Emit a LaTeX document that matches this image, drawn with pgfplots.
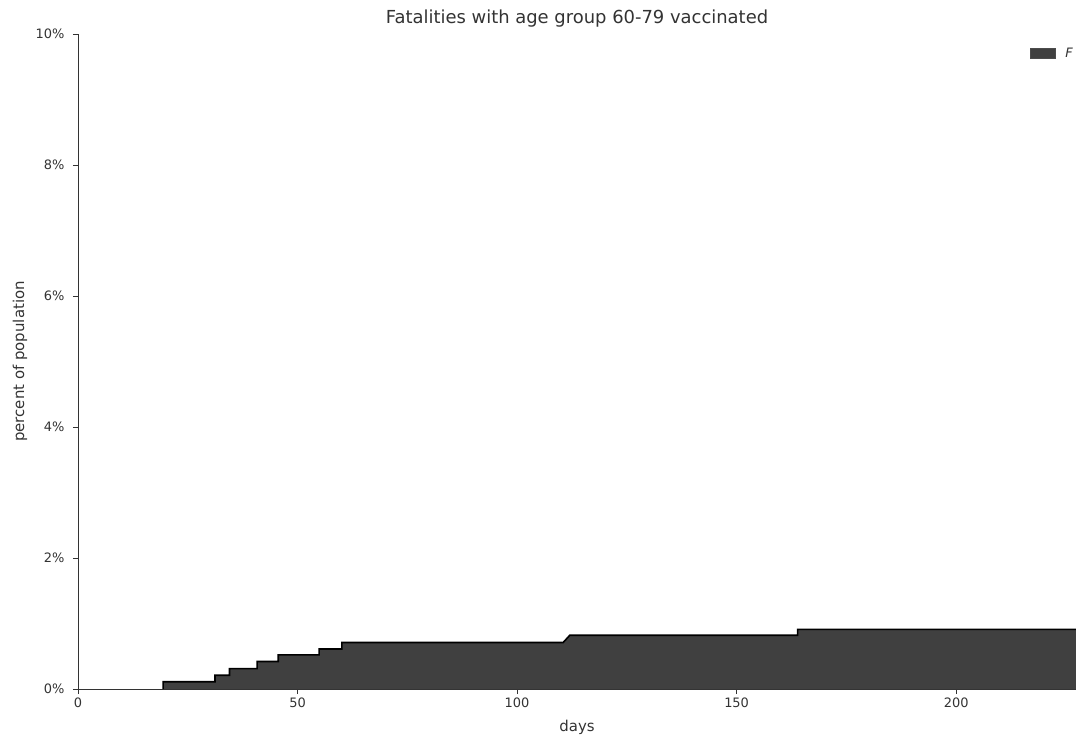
\documentclass[border=0pt]{standalone}
\usepackage{pgfplots}
\pgfplotsset{compat=1.18}
\usepackage{fontspec}
\setmainfont{DejaVu Sans}
\definecolor{fillc}{HTML}{404040}
\definecolor{txt}{HTML}{333333}
\pgfplotstableread{
x y
19.4 0
19.4 0.11
31.2 0.11
31.2 0.21
34.5 0.21
34.5 0.31
40.8 0.31
40.8 0.42
45.6 0.42
45.6 0.52
54.9 0.52
54.9 0.61
60.1 0.61
60.1 0.71
110.5 0.71
112 0.82
163.9 0.82
163.9 0.91
227.3 0.91
}\fatal
\begin{document}
\begin{tikzpicture}
\begin{axis}[
  scale only axis, width=998bp, height=655bp,
  xmin=0, xmax=227.3, ymin=0, ymax=10,
  axis x line*=bottom, axis y line*=left,
  axis line style={-, txt, line width=0.9bp},
  tick align=outside, major tick length=5bp,
  tick style={txt, line width=0.8bp},
  xtick={0,50,100,150,200}, ytick={0,2,4,6,8,10},
  yticklabel={\pgfmathprintnumber{\tick}\%},
  /pgf/number format/assume math mode=true,
  ticklabel style={font=\fontsize{13}{15}\selectfont, text=txt},
  yticklabel style={xshift=-5bp},
  title={Fatalities with age group 60-79 vaccinated},
  title style={font=\fontsize{18}{20}\selectfont, text=txt, at={(0.5,1)}, anchor=base, yshift=5bp},
  xlabel={days}, ylabel={percent of population},
  label style={font=\fontsize{15}{17}\selectfont, text=txt},
  xlabel style={at={(0.5,0)}, anchor=base, yshift=-42bp},
  ylabel style={at={(-0.0541,0.5)}, anchor=base},
  legend style={draw=none, fill=none, at={(1,1)}, anchor=north east, font=\fontsize{13}{15}\selectfont\itshape, text=txt, inner sep=0pt, xshift=-1bp, yshift=-12bp},
  legend cell align=left,
  legend image code/.code={\draw[fill=fillc, draw=black!70, line width=0.5bp] (0bp,-5bp) rectangle (25bp,5bp); \path (33bp,0bp);},
]
\addplot[fill=fillc, draw=none] table[x=x,y=y]{\fatal} \closedcycle;
\addlegendentry{F}
\addplot[black, line width=1.6bp, forget plot] table[x=x,y=y]{\fatal};
\end{axis}
\pgfresetboundingbox
\path (-78bp,-48bp) rectangle (998bp,689bp);
\end{tikzpicture}
\end{document}
